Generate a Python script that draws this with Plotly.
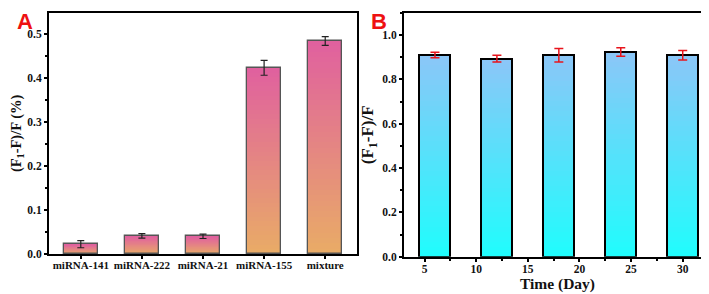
import plotly.graph_objects as go
import numpy as np

# ---- data ----
cats_a = ["miRNA-141", "miRNA-222", "miRNA-21", "miRNA-155", "mixture"]
vals_a = [0.022, 0.041, 0.040, 0.424, 0.485]
errs_a = [0.008, 0.005, 0.005, 0.017, 0.010]

days_b = [6, 12, 18, 24, 30]
vals_b = [0.910, 0.894, 0.909, 0.924, 0.909]
errs_b = [0.012, 0.015, 0.030, 0.019, 0.021]

W, H = 709, 294
FONT = "Liberation Serif"

def hexrgb(h):
    h = h.lstrip("#")
    return [int(h[i:i+2], 16) for i in (0, 2, 4)]

def lerp(c0, c1, t):
    a, b = hexrgb(c0), hexrgb(c1)
    return "rgb(%d,%d,%d)" % tuple(round(a[k] + (b[k] - a[k]) * t) for k in range(3))

fig = go.Figure()
N = 40

def gradient_bars(x, vals, width, c_bottom, c_top, xa, ya):
    vals = np.array(vals, dtype=float)
    for i in range(N):
        t = (i + 0.5) / N
        top = min(i + 2, N)
        fig.add_trace(go.Bar(
            x=x, y=vals * (top - i) / N, base=vals * i / N, width=width,
            marker=dict(color=lerp(c_bottom, c_top, t), line=dict(width=0)),
            xaxis=xa, yaxis=ya, showlegend=False, hoverinfo="skip"))

xa_idx = list(range(len(cats_a)))
gradient_bars(xa_idx, vals_a, 0.56, "#e9ac66", "#e0609f", "x", "y")
fig.add_trace(go.Bar(
    x=xa_idx, y=vals_a, width=0.56,
    marker=dict(color="rgba(0,0,0,0)", line=dict(color="#555555", width=1.3)),
    error_y=dict(type="data", array=errs_a, color="#222222", thickness=1.2, width=3.5),
    xaxis="x", yaxis="y", showlegend=False))

gradient_bars(days_b, vals_b, 3.0, "#1ffdfd", "#8cc6f8", "x2", "y2")
fig.add_trace(go.Bar(
    x=days_b, y=vals_b, width=3.0,
    marker=dict(color="rgba(0,0,0,0)", line=dict(color="#000000", width=2)),
    error_y=dict(type="data", array=errs_b, color="#e8141c", thickness=1.5, width=4.5),
    xaxis="x2", yaxis="y2", showlegend=False))

tickfont = dict(family=FONT, size=11.5, color="#111111", weight="bold")
common = dict(showline=True, linecolor="#000000", linewidth=2, mirror=True,
              ticks="outside", ticklen=3, tickwidth=1.5, tickcolor="#000000",
              showgrid=False, zeroline=False)

fig.update_layout(
    width=W, height=H, margin=dict(l=0, r=0, t=0, b=0),
    paper_bgcolor="white", plot_bgcolor="white",
    barmode="overlay", bargap=0,
    font=dict(family=FONT, color="#111111"),
    xaxis=dict(domain=[41 / W, 349 / W], range=[-0.52, 4.52],
               tickmode="array", tickvals=xa_idx, ticktext=cats_a,
               tickfont=dict(tickfont, size=11), ticklabelstandoff=-3,
               anchor="y", **common),
    yaxis=dict(domain=[1 - 251 / H, 1 - 5 / H], range=[0, 0.549],
               dtick=0.1, tickformat=".1f", anchor="x", tickfont=tickfont,
               minor=dict(dtick=0.05, ticks="outside", ticklen=2.5, tickcolor="#000000"),
               title=dict(text="<b>(F<sub>1</sub>-F)/F (%)</b>", font=dict(family=FONT, size=14.5), standoff=8),
               **common),
    xaxis2=dict(domain=[396 / W, 703 / W], range=[3, 32.74], tick0=5, dtick=5,
                minor=dict(dtick=2.5, ticks="outside", ticklen=2.5, tickcolor="#000000"),
                anchor="y2", tickfont=tickfont, ticklabelstandoff=-3,
                title=dict(text="<b>Time (Day)</b>", font=dict(family=FONT, size=15.5), standoff=0),
                **common),
    yaxis2=dict(domain=[1 - 254 / H, 1 - 5 / H], range=[0, 1.1], dtick=0.2, tickformat=".1f",
                minor=dict(dtick=0.1, ticks="outside", ticklen=2.5, tickcolor="#000000"),
                anchor="x2", tickfont=tickfont,
                title=dict(text="<b>(F<sub>1</sub>-F)/F</b>", font=dict(family=FONT, size=17), standoff=4),
                **common),
    annotations=[
        dict(text="<b>A</b>", x=8 / W, y=1.0, xref="paper", yref="paper",
             xanchor="left", yanchor="top", showarrow=False, borderpad=0,
             font=dict(family="Liberation Sans", size=22, color="#ee1111")),
        dict(text="<b>B</b>", x=362 / W, y=1.0, xref="paper", yref="paper",
             xanchor="left", yanchor="top", showarrow=False, borderpad=0,
             font=dict(family="Liberation Sans", size=22, color="#ee1111")),
    ],
)

fig.write_html("out.html")
